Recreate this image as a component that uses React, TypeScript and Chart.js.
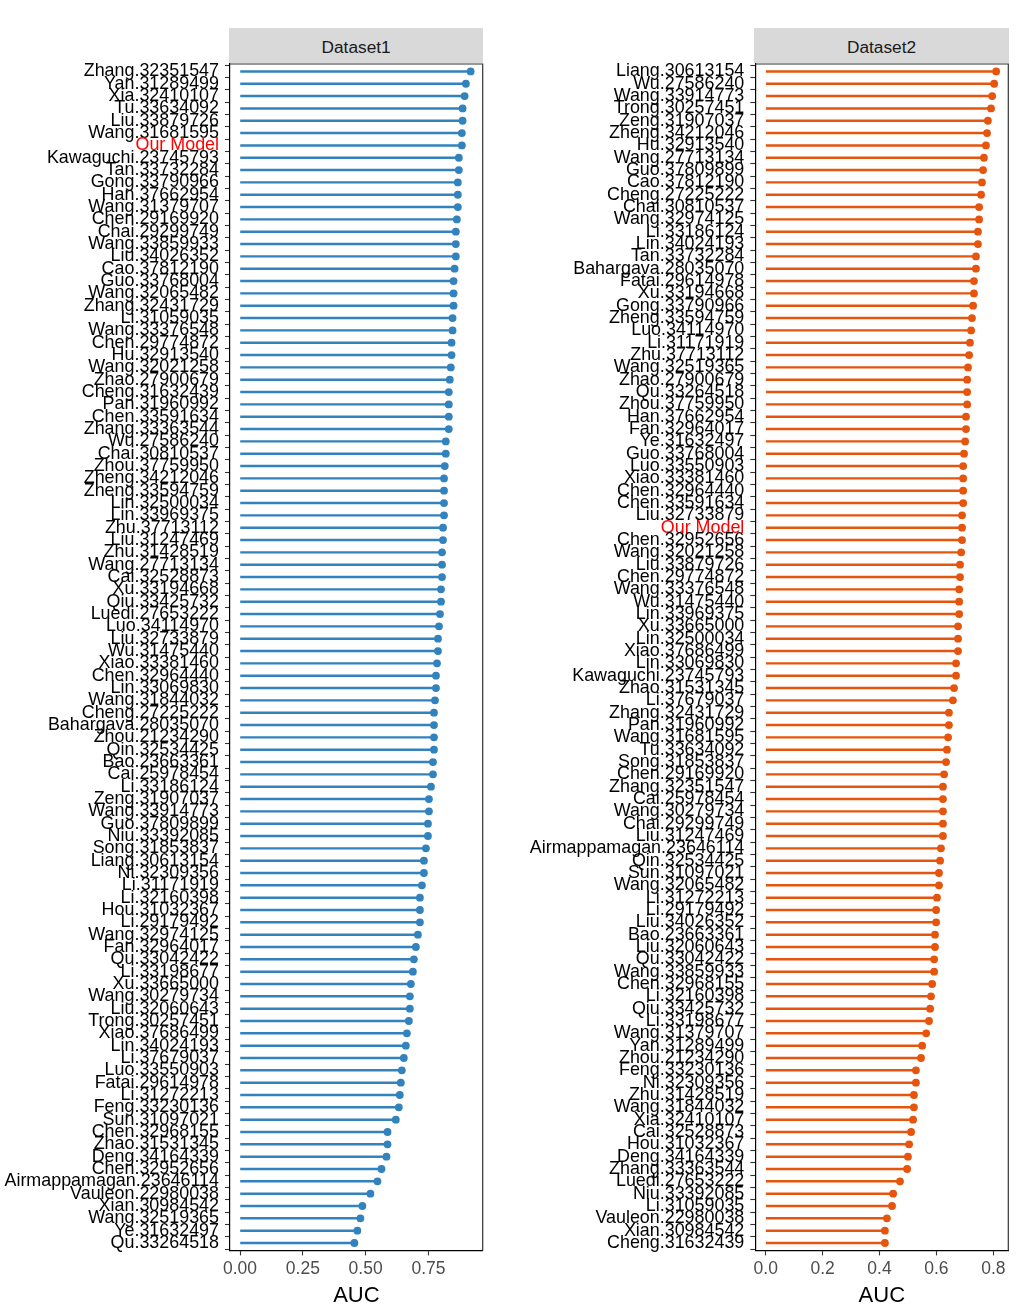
import { useEffect, useRef } from 'react'
import { Chart, registerables } from 'chart.js'

Chart.register(...registerables)

// ─── data ────────────────────────────────────────────────────────────────────
const NAMES_1 = [
  'Zhang.32351547', 'Yan.31289499', 'Xia.32410107', 'Tu.33634092', 'Liu.33879726', 'Wang.31681595',
  'Our Model', 'Kawaguchi.23745793', 'Tan.33732284', 'Gong.33790966', 'Han.37662954', 'Wang.31379707',
  'Chen.29169920', 'Chai.29299749', 'Wang.33859933', 'Liu.34026352', 'Cao.37812190', 'Guo.33768004',
  'Wang.32065482', 'Zhang.32431729', 'Li.31059035', 'Wang.33376548', 'Chen.29774872', 'Hu.32913540',
  'Wang.32021258', 'Zhao.27900679', 'Cheng.31632439', 'Pan.31960992', 'Chen.33591634', 'Zhang.33363544',
  'Wu.27586240', 'Chai.30810537', 'Zhou.37759950', 'Zheng.34212046', 'Zheng.33594759', 'Lin.32500034',
  'Lin.33969375', 'Zhu.37713112', 'Liu.31247469', 'Zhu.31428519', 'Wang.27713134', 'Cai.32528873',
  'Xu.33194668', 'Qiu.33425732', 'Luedi.27653222', 'Luo.34114970', 'Liu.32733879', 'Wu.31475440',
  'Xiao.33381460', 'Chen.32964440', 'Lin.33069830', 'Wang.31844032', 'Cheng.27225222', 'Bahargava.28035070',
  'Zhou.21234290', 'Qin.32534425', 'Bao.23663361', 'Cai.25978454', 'Li.33186124', 'Zeng.31907037',
  'Wang.33914773', 'Guo.37809899', 'Niu.33392085', 'Song.31853837', 'Liang.30613154', 'Ni.32309356',
  'Li.31171919', 'Li.32160398', 'Hou.31032367', 'Li.29179492', 'Wang.32974125', 'Fan.32964017',
  'Qu.33042422', 'Li.33198677', 'Xu.33665000', 'Wang.30279734', 'Liu.32060643', 'Trong.30257451',
  'Xiao.37686499', 'Lin.34024193', 'Li.37679037', 'Luo.33550903', 'Fatai.29614978', 'Li.31272213',
  'Feng.33230136', 'Sun.31097021', 'Chen.32968155', 'Zhao.31531345', 'Deng.34164339', 'Chen.32952656',
  'Airmappamagan.23646114', 'Vauleon.22980038', 'Xian.30984542', 'Wang.32519365', 'Ye.31632497', 'Qu.33264518',
]
const AUC_1 = [
  0.918, 0.899, 0.894, 0.886, 0.886, 0.883, 0.883, 0.871, 0.871, 0.867,
  0.867, 0.867, 0.863, 0.859, 0.859, 0.859, 0.854, 0.850, 0.850, 0.850,
  0.846, 0.846, 0.842, 0.842, 0.839, 0.835, 0.831, 0.831, 0.831, 0.831,
  0.819, 0.819, 0.815, 0.812, 0.812, 0.812, 0.812, 0.808, 0.808, 0.804,
  0.804, 0.804, 0.800, 0.800, 0.796, 0.792, 0.788, 0.788, 0.784, 0.780,
  0.780, 0.776, 0.772, 0.772, 0.772, 0.772, 0.768, 0.768, 0.760, 0.752,
  0.752, 0.748, 0.748, 0.740, 0.732, 0.732, 0.724, 0.716, 0.716, 0.716,
  0.708, 0.700, 0.692, 0.688, 0.680, 0.676, 0.676, 0.672, 0.664, 0.660,
  0.652, 0.644, 0.640, 0.636, 0.632, 0.620, 0.587, 0.587, 0.583, 0.563,
  0.547, 0.519, 0.487, 0.479, 0.467, 0.455,
]

const NAMES_2 = [
  'Liang.30613154', 'Wu.27586240', 'Wang.33914773', 'Trong.30257451', 'Zeng.31907037', 'Zheng.34212046',
  'Hu.32913540', 'Wang.27713134', 'Guo.37809899', 'Cao.37812190', 'Cheng.27225222', 'Chai.30810537',
  'Wang.32974125', 'Li.33186124', 'Lin.34024193', 'Tan.33732284', 'Bahargava.28035070', 'Fatai.29614978',
  'Xu.33194668', 'Gong.33790966', 'Zheng.33594759', 'Luo.34114970', 'Li.31171919', 'Zhu.37713112',
  'Wang.32519365', 'Zhao.27900679', 'Qu.33264518', 'Zhou.37759950', 'Han.37662954', 'Fan.32964017',
  'Ye.31632497', 'Guo.33768004', 'Luo.33550903', 'Xiao.33381460', 'Chen.32964440', 'Chen.33591634',
  'Liu.32733879', 'Our Model', 'Chen.32952656', 'Wang.32021258', 'Liu.33879726', 'Chen.29774872',
  'Wang.33376548', 'Wu.31475440', 'Lin.33969375', 'Xu.33665000', 'Lin.32500034', 'Xiao.37686499',
  'Lin.33069830', 'Kawaguchi.23745793', 'Zhao.31531345', 'Li.37679037', 'Zhang.32431729', 'Pan.31960992',
  'Wang.31681595', 'Tu.33634092', 'Song.31853837', 'Chen.29169920', 'Zhang.32351547', 'Cai.25978454',
  'Wang.30279734', 'Chai.29299749', 'Liu.31247469', 'Airmappamagan.23646114', 'Qin.32534425', 'Sun.31097021',
  'Wang.32065482', 'Li.31272213', 'Li.29179492', 'Liu.34026352', 'Bao.23663361', 'Liu.32060643',
  'Qu.33042422', 'Wang.33859933', 'Chen.32968155', 'Li.32160398', 'Qiu.33425732', 'Li.33198677',
  'Wang.31379707', 'Yan.31289499', 'Zhou.21234290', 'Feng.33230136', 'Ni.32309356', 'Zhu.31428519',
  'Wang.31844032', 'Xia.32410107', 'Cai.32528873', 'Hou.31032367', 'Deng.34164339', 'Zhang.33363544',
  'Luedi.27653222', 'Niu.33392085', 'Li.31059035', 'Vauleon.22980038', 'Xian.30984542', 'Cheng.31632439',
]
const AUC_2 = [
  0.810, 0.803, 0.796, 0.792, 0.781, 0.778, 0.774, 0.767, 0.764, 0.760,
  0.757, 0.750, 0.750, 0.746, 0.746, 0.739, 0.739, 0.732, 0.732, 0.729,
  0.725, 0.722, 0.718, 0.715, 0.711, 0.708, 0.708, 0.708, 0.704, 0.704,
  0.701, 0.697, 0.694, 0.694, 0.694, 0.694, 0.690, 0.690, 0.690, 0.687,
  0.683, 0.683, 0.680, 0.680, 0.680, 0.676, 0.676, 0.676, 0.669, 0.669,
  0.662, 0.658, 0.644, 0.644, 0.641, 0.637, 0.634, 0.627, 0.623, 0.623,
  0.623, 0.623, 0.623, 0.616, 0.613, 0.609, 0.609, 0.602, 0.599, 0.599,
  0.595, 0.595, 0.592, 0.592, 0.585, 0.581, 0.578, 0.574, 0.564, 0.550,
  0.546, 0.528, 0.528, 0.521, 0.521, 0.518, 0.511, 0.504, 0.500, 0.497,
  0.472, 0.448, 0.444, 0.426, 0.419, 0.419,
]

const TICKS_1 = [0, 0.25, 0.5, 0.75]
const TICKS_2 = [0, 0.2, 0.4, 0.6, 0.8]

const FONT = "'Liberation Sans', Arial, sans-serif"
const CANVAS_TOP = 40
const CANVAS_H = 1269

// panel top / right edges (the axes draw left / bottom)
const frame = {
  id: 'frame',
  afterDraw(chart: Chart) {
    const { ctx, chartArea: a } = chart
    ctx.save()
    ctx.strokeStyle = '#333'
    ctx.lineWidth = 1.2
    ctx.beginPath()
    ctx.moveTo(a.left, a.top)
    ctx.lineTo(a.right, a.top)
    ctx.lineTo(a.right, a.bottom)
    ctx.stroke()
    ctx.restore()
  },
}

interface PanelProps {
  names: string[]; values: number[]; ticks: number[]; digits: number
  color: string; min: number; max: number
  left: number; width: number; yWidth: number; padRight: number; strip: string
}
function Panel({ names, values, ticks, digits, color, min, max, left, width, yWidth, padRight, strip }: PanelProps) {
  const ref = useRef<HTMLCanvasElement>(null)
  const chart = useRef<Chart | null>(null)

  useEffect(() => {
    if (!ref.current) return
    chart.current?.destroy()
    chart.current = new Chart(ref.current, {
      type: 'bar',
      data: {
        labels: names,
        datasets: [
          {
            type: 'line', indexAxis: 'y', data: values, showLine: false, order: 0,
            pointRadius: 3.9, pointBackgroundColor: color, pointBorderWidth: 0, pointHoverRadius: 3.9,
          } as any,
          {
            type: 'bar', indexAxis: 'y', data: values, order: 1,
            backgroundColor: color, barThickness: 1.8,
          } as any,
        ],
      },
      options: {
        indexAxis: 'y', responsive: false, animation: false,
        layout: { padding: { top: 24, right: padRight, left: 0, bottom: 0 } },
        plugins: { legend: { display: false }, tooltip: { enabled: false } },
        scales: {
          y: {
            type: 'category', offset: true,
            grid: { display: true, drawOnChartArea: false, drawTicks: true, tickLength: 5, tickColor: '#333', tickWidth: 1.1 },
            border: { display: true, color: '#000', width: 1.2 },
            ticks: {
              autoSkip: false, padding: 6,
              color: (c: any) => (names[c.index] === 'Our Model' ? '#FF0000' : '#000000'),
              font: { family: FONT, size: 17.9 },
            },
            afterFit: (s: any) => { s.width = yWidth; s.paddingTop = 0; s.paddingBottom = 0 },
            // ggplot-style discrete expansion: 0.6 of a row at each end
            afterUpdate: (s: any) => { s._startValue = -0.6; s._valueRange = names.length - 1 + 1.2 },
          },
          x: {
            type: 'linear', min, max,
            grid: { display: true, drawOnChartArea: false, drawTicks: true, tickLength: 5, tickColor: '#333', tickWidth: 1.1 },
            border: { display: true, color: '#000', width: 1.2 },
            ticks: {
              padding: 3, color: '#4D4D4D', font: { family: FONT, size: 17.5 },
              callback: (v: any) => Number(v).toFixed(digits),
            },
            afterBuildTicks: (s: any) => { s.ticks = ticks.map(v => ({ value: v })) },
            afterFit: (s: any) => { s.height = 58.6; s.paddingLeft = 0; s.paddingRight = 0 },
            title: { display: true, text: 'AUC', color: '#000', font: { family: FONT, size: 22 }, padding: { top: 0, bottom: 0 } },
          },
        },
      } as any,
      plugins: [frame],
    })
    return () => chart.current?.destroy()
  }, [])

  const stripLeft = left + yWidth - 1
  const stripWidth = width - yWidth - padRight + 1.5
  return (
    <>
      <canvas ref={ref} width={width} height={CANVAS_H}
        style={{ position: 'absolute', left, top: CANVAS_TOP, width, height: CANVAS_H }} />
      <div style={{
        position: 'absolute', left: stripLeft, top: 28, width: stripWidth, height: 35,
        background: '#D9D9D9', color: '#1A1A1A', font: `17.3px ${FONT}`, boxSizing: 'border-box', paddingTop: 3,
        display: 'flex', alignItems: 'center', justifyContent: 'center',
      }}>{strip}</div>
    </>
  )
}

export default function App() {
  return (
    <div style={{ position: 'absolute', left: 0, top: 0, width: 1018, height: 1309, background: '#fff' }}>
      <Panel names={NAMES_1} values={AUC_1} ticks={TICKS_1} digits={2} color="#3282BD"
        min={-0.04} max={0.966} left={0} width={500} yWidth={230} padRight={17.3} strip="Dataset1" />
      <Panel names={NAMES_2} values={AUC_2} ticks={TICKS_2} digits={1} color="#E6550D"
        min={-0.0366} max={0.8527} left={510} width={508} yWidth={245.3} padRight={9.7} strip="Dataset2" />
    </div>
  )
}
